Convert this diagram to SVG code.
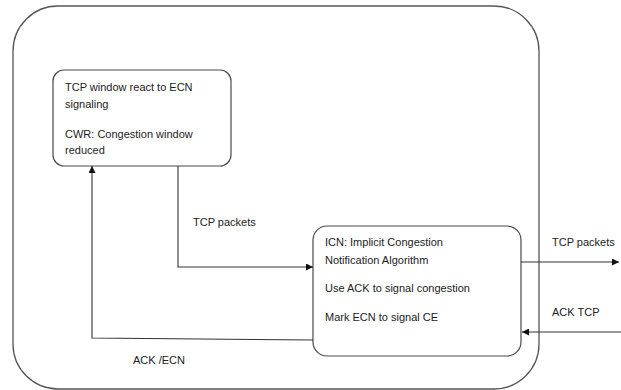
<svg xmlns="http://www.w3.org/2000/svg" width="621" height="390" viewBox="0 0 621 390">
<defs>
<style>
.box{fill:#fff;stroke:#4a4a4a;stroke-width:1.2}
.outer{fill:#fff;stroke:#555;stroke-width:1.3}
.t{font-family:"Liberation Sans",Arial,sans-serif;font-size:11px;fill:#222}
.c{fill:none;stroke:#333;stroke-width:1.1}
</style>
<marker id="ah" viewBox="0 0 10 10" refX="10" refY="5" markerWidth="7" markerHeight="7" markerUnits="userSpaceOnUse" orient="auto">
<path d="M0,0 L10,5 L0,10 z" fill="#111"/>
</marker>
</defs>
<rect x="0" y="0" width="621" height="390" fill="#fff"/>
<g id="outer">
<rect class="outer" x="13" y="6" width="526" height="383" rx="45" ry="45"/>
</g>
<g id="node-tcp-window">
<rect class="box" x="53" y="70" width="178" height="96" rx="11" ry="11"/>
<text class="t" x="65" y="91">TCP window react to ECN</text>
<text class="t" x="65" y="108">signaling</text>
<text class="t" x="65" y="138">CWR: Congestion window</text>
<text class="t" x="65" y="154">reduced</text>
</g>
<g id="node-icn">
<rect class="box" x="313" y="226" width="208" height="130" rx="14" ry="14"/>
<text class="t" x="325" y="246">ICN: Implicit Congestion</text>
<text class="t" x="325" y="264">Notification Algorithm</text>
<text class="t" x="325" y="292">Use ACK to signal congestion</text>
<text class="t" x="325" y="321">Mark ECN to signal CE</text>
</g>
<g id="connectors">
<polyline class="c" points="178,166 178,267 313,267" marker-end="url(#ah)"/>
<polyline class="c" points="313,340 92,338 92,166" marker-end="url(#ah)"/>
<line class="c" x1="521" y1="262" x2="619" y2="262" marker-end="url(#ah)"/>
<line class="c" x1="621" y1="332" x2="522" y2="332" marker-end="url(#ah)"/>
</g>
<g id="labels">
<text class="t" x="193" y="226">TCP packets</text>
<text class="t" x="133" y="364">ACK /ECN</text>
<text class="t" x="552" y="246">TCP packets</text>
<text class="t" x="552" y="316">ACK TCP</text>
</g>
</svg>
